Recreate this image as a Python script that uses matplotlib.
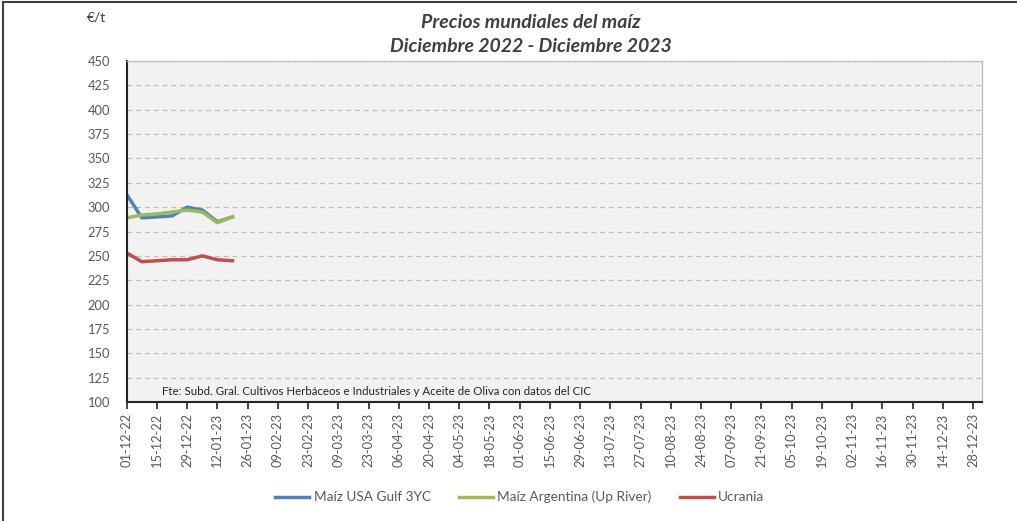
import numpy as np
import pandas as pd
import matplotlib
matplotlib.use("Agg")
import matplotlib.pyplot as plt
import matplotlib.dates as mdates
from matplotlib.lines import Line2D

plt.rcParams['font.family'] = ['Lato', 'DejaVu Sans']

# weekly quotes, €/t
fechas = pd.to_datetime(["2022-12-01", "2022-12-08", "2022-12-15", "2022-12-22",
                         "2022-12-29", "2023-01-05", "2023-01-12", "2023-01-19"])
usa_gulf = [313, 289, 290, 291, 300, 297, 285, 290]
argentina = [289, 292, 293, 295, 297, 295, 284, 290]
ucrania = [253, 244, 245, 246, 246, 250, 246, 245]

series_names = ["Maíz USA Gulf 3YC", "Maíz Argentina (Up River)", "Ucrania"]
series_colors = ["#4F81BD", "#9BBB59", "#C0504D"]

fig = plt.figure(figsize=(10.17, 5.21), dpi=100)
ax = fig.add_axes([0.1246, 0.2284, 0.8407, 0.6545])
ax.set_facecolor("#F2F2F2")

for vals, name, col in zip([usa_gulf, argentina, ucrania], series_names, series_colors):
    ax.plot(fechas, vals, color=col, lw=2.5, label=name, solid_joinstyle="round")

ax.set_ylim(100, 450)
ax.set_yticks(np.arange(100, 451, 25))
ax.set_xlim(pd.Timestamp("2022-12-01"), pd.Timestamp("2024-01-01"))
ticks = pd.date_range("2022-12-01", "2023-12-28", freq="14D")
ax.set_xticks(ticks)
ax.xaxis.set_major_formatter(mdates.DateFormatter("%d-%m-%y"))
ax.tick_params(axis="x", rotation=90, length=5, width=1.2, color="#262626",
               labelsize=9.3, labelcolor="#595959", pad=3)
ax.tick_params(axis="y", length=0, labelsize=9.3, labelcolor="#595959", pad=12)

ax.grid(axis="y", color="#BFBFBF", ls=(0, (4, 3)), lw=0.9)
ax.set_axisbelow(True)
for s in ["top", "right"]:
    ax.spines[s].set_color("#BFBFBF")
    ax.spines[s].set_linewidth(1)
for s in ["left", "bottom"]:
    ax.spines[s].set_color("#262626")
    ax.spines[s].set_linewidth(1.5)

ax.text(0.041, 0.03, "Fte: Subd. Gral. Cultivos Herbáceos e Industriales y Aceite de Oliva con datos del CIC",
        transform=ax.transAxes, fontsize=8.3, color="#262626", va="center", ha="left")

fig.text(0.522, 1 - 22 / 521, "Precios mundiales del maíz", ha="center", va="center",
         fontsize=14, fontweight="bold", style="italic", color="#404040")
fig.text(0.522, 1 - 46 / 521, "Diciembre 2022 - Diciembre 2023", ha="center", va="center",
         fontsize=14, fontweight="bold", style="italic", color="#404040")
fig.text(96 / 1017, 1 - 18 / 521, "€/t", ha="center", va="center", fontsize=10, color="#404040")

fig.legend(loc="center", bbox_to_anchor=(520 / 1017, 1 - 497 / 521), ncol=3, frameon=False,
           fontsize=9.8, handlelength=2.5, handletextpad=0.3, columnspacing=2.1,
           labelcolor="#595959")

# outer chart border (left and top)
fig.add_artist(Line2D([3 / 1017, 3 / 1017], [0, 1 - 2 / 521], color="#404040", lw=1.5))
fig.add_artist(Line2D([3 / 1017, 1], [1 - 2 / 521, 1 - 2 / 521], color="#404040", lw=1.5))

fig.savefig("out.png", dpi=100)
